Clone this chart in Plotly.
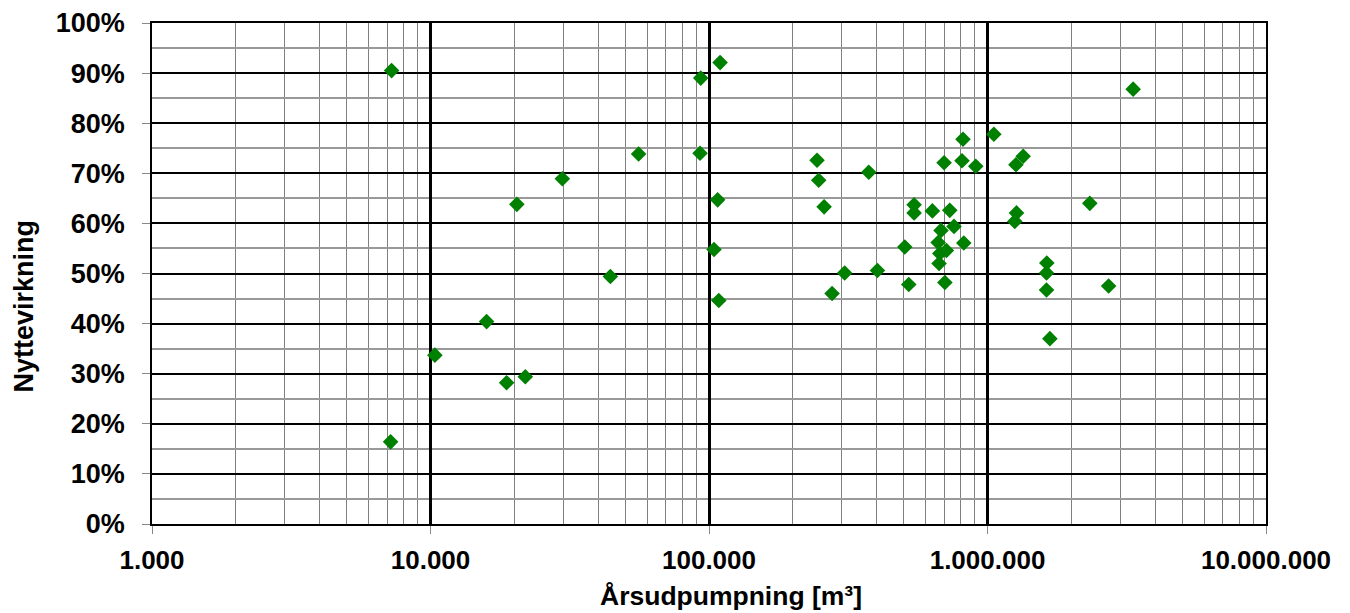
import plotly.graph_objects as go

# Annual pumping volume [m3] and efficiency [%]
pumping = [7250, 7190, 10370, 15900, 18760, 21900, 20420, 29740, 55870, 92850,
           93400, 109600, 107400, 104200, 44240, 108400, 244300, 247700, 259000, 307000,
           276600, 3334000, 1054000, 816500, 374700, 698400, 810000, 907600, 1343000, 1265000,
           545000, 545000, 634000, 732000, 1271000, 1253000, 2330000, 758000, 681000, 504700,
           665000, 822000, 712000, 674000, 670000, 521500, 703000, 402500, 1633000, 1629000,
           1629000, 2722000, 1675000]
efficiency = [90.5, 16.4, 33.7, 40.4, 28.2, 29.4, 63.8, 68.9, 73.85, 74.0,
              89.0, 92.1, 64.7, 54.8, 49.4, 44.6, 72.6, 68.6, 63.3, 50.1,
              46.0, 86.8, 77.8, 76.8, 70.2, 72.1, 72.5, 71.4, 73.4, 71.7,
              63.7, 62.1, 62.5, 62.6, 62.1, 60.4, 64.0, 59.4, 58.6, 55.3,
              56.2, 56.1, 54.6, 54.0, 52.0, 47.8, 48.2, 50.6, 52.1, 50.1,
              46.7, 47.5, 37.0]

x_ticks = [1000, 10000, 100000, 1000000, 10000000]
x_ticktext = ["1.000", "10.000", "100.000", "1.000.000", "10.000.000"]
x_minor = [m * 10 ** e for e in range(3, 7) for m in range(2, 10)]
y_ticks = list(range(0, 101, 10))
y_ticktext = [f"{v}%" for v in y_ticks]
y_minor = list(range(5, 100, 10))
x_title = "Årsudpumpning [m³]"
y_title = "Nyttevirkning"

FAM = "Liberation Sans, Arial, sans-serif"

fig = go.Figure(go.Scatter(
    x=pumping, y=efficiency, mode="markers",
    marker=dict(symbol="diamond", size=12, color="#008000", line=dict(width=0)),
    showlegend=False, hoverinfo="x+y",
))

fig.update_layout(
    width=1350, height=613,
    margin=dict(l=152, r=84, t=23, b=89, autoexpand=False),
    paper_bgcolor="white", plot_bgcolor="white",
    font=dict(family=FAM, size=26, color="black"),
    annotations=[
        dict(text=f"<b>{x_title}</b>", xref="paper", yref="paper",
             x=0.5195, y=-0.143, xanchor="center", yanchor="middle",
             showarrow=False, font=dict(size=26.5, family=FAM, color="black")),
        dict(text=f"<b>{y_title}</b>", xref="paper", yref="paper",
             x=0, xshift=-128, y=0.434, xanchor="center", yanchor="middle",
             textangle=-90, showarrow=False,
             font=dict(size=27, family=FAM, color="black")),
    ],
)
fig.update_xaxes(
    type="log", range=[3, 7], automargin=False,
    tickmode="array", tickvals=x_ticks,
    ticktext=[f"<b>{t}</b>" for t in x_ticktext],
    tickfont=dict(size=26, family=FAM, color="black"),
    ticks="outside", ticklen=8, tickcolor="#888888", tickwidth=1,
    ticklabelstandoff=4,
    showgrid=True, gridcolor="black", gridwidth=2.5,
    minor=dict(tickmode="array", tickvals=x_minor, showgrid=True,
               gridcolor="#808080", gridwidth=1, ticks=""),
    showline=True, linecolor="black", linewidth=1.5, mirror=True,
    zeroline=False,
)
fig.update_yaxes(
    range=[0, 100], automargin=False,
    tickmode="array", tickvals=y_ticks,
    ticktext=[f"<b>{t}</b>" for t in y_ticktext],
    tickfont=dict(size=27, family=FAM, color="black"),
    ticks="outside", ticklen=8, tickcolor="#888888", tickwidth=1,
    ticklabelstandoff=12,
    showgrid=True, gridcolor="black", gridwidth=2,
    minor=dict(tickmode="array", tickvals=y_minor, showgrid=True,
               gridcolor="#999999", gridwidth=1.5, ticks=""),
    showline=True, linecolor="black", linewidth=1.5, mirror=True,
    zeroline=False,
)

fig.write_html("out.html")
